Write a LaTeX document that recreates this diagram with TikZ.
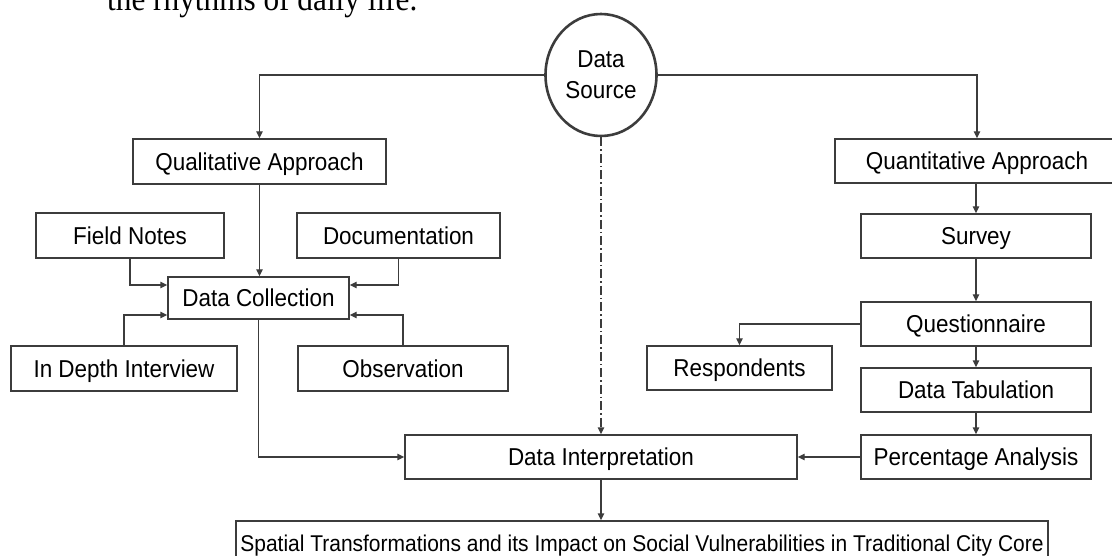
\documentclass[tikz,border=0pt]{standalone}
\usepackage{fontspec}
\newfontfamily\figfont[FakeStretch=0.92]{Liberation Sans}
\newfontfamily\bodyfont[FakeStretch=0.92]{Liberation Serif}
\usetikzlibrary{arrows.meta,shapes.geometric}
\definecolor{linecol}{HTML}{3C3C3C}
\begin{document}
\begin{tikzpicture}[x=1pt,y=-1pt,
  box/.style={draw=linecol, line width=1.4pt, fill=white, inner sep=0pt,
    text height=17.5pt, text depth=0pt,
    font=\figfont\fontsize{24.4}{28}\selectfont, text=black},
  conn/.style={draw=linecol, line width=1.4pt},
  arr/.style={conn, -{Triangle[length=7pt,width=6.5pt]}},
  dashdot/.style={dash pattern=on 9pt off 3pt on 1.5pt off 3pt},
]
\useasboundingbox (0,0) rectangle (1112,556);
\node[anchor=base west, inner sep=0pt, font=\bodyfont\fontsize{34}{40}\selectfont] (ctx) at (107,11) {the rhythms of daily life.};

\node[ellipse, draw=linecol, line width=2.6pt, fill=white, minimum width=111pt, minimum height=122pt, inner sep=0pt,
  align=center, font=\figfont\fontsize{24.4}{31}\selectfont] (src) at (601,75) {Data\\Source};

\node[box, minimum width=253pt, minimum height=45pt] (qual) at (259.5,161.5) {Qualitative Approach};
\node[box, minimum width=284pt, minimum height=44pt] (quant) at (977,161) {Quantitative Approach};

\node[box, minimum width=188pt, minimum height=45pt] (fn) at (130,235.5) {Field Notes};
\node[box, minimum width=203pt, minimum height=45pt] (doc) at (398.5,235.5) {Documentation};
\node[box, minimum width=181pt, minimum height=42pt] (dc) at (258.5,298) {Data Collection};
\node[box, minimum width=226pt, minimum height=45pt] (idi) at (124,368.5) {In Depth Interview};
\node[box, minimum width=210pt, minimum height=45pt] (obs) at (403,368.5) {Observation};

\node[box, minimum width=230pt, minimum height=44pt] (survey) at (976,236) {Survey};
\node[box, minimum width=230pt, minimum height=44pt] (quest) at (976,324) {Questionnaire};
\node[box, minimum width=230pt, minimum height=44pt] (tab) at (976,390) {Data Tabulation};
\node[box, minimum width=230pt, minimum height=44pt] (pa) at (976,457) {Percentage Analysis};
\node[box, minimum width=185pt, minimum height=44pt] (resp) at (739.5,368) {Respondents};

\node[box, minimum width=392pt, minimum height=44pt] (di) at (601,457) {Data Interpretation};
\node[box, minimum width=812pt, minimum height=44pt, font=\figfont\fontsize{22.8}{26}\selectfont,
  text height=16.3pt, text depth=0pt] (final) at (642,543) {Spatial Transformations and its Impact on Social Vulnerabilities in Traditional City Core};

% connectors
\draw[arr] (src.west) -| (qual.north);
\draw[arr] (src.east) -| (quant.north);
\draw[arr, dashdot] (src.south) -- (di.north);

\draw[arr] (qual.south) -- (qual.south |- dc.north);
\draw[arr] (fn.south) |- ([yshift=13pt]dc.west);
\draw[arr] (doc.south) |- ([yshift=13pt]dc.east);
\draw[arr] (idi.north) |- ([yshift=-17pt]dc.west);
\draw[arr] (obs.north) |- ([yshift=-17pt]dc.east);
\draw[arr] (dc.south) |- (di.west);

\draw[arr] (survey.north |- quant.south) -- (survey.north);
\draw[arr] (survey.south) -- (quest.north);
\draw[arr] (quest.south) -- (tab.north);
\draw[arr] (tab.south) -- (pa.north);
\draw[arr] (quest.west) -| (resp.north);
\draw[arr] (pa.west) -- (di.east);
\draw[arr] (di.south) -- (di.south |- final.north);
\end{tikzpicture}
\end{document}
